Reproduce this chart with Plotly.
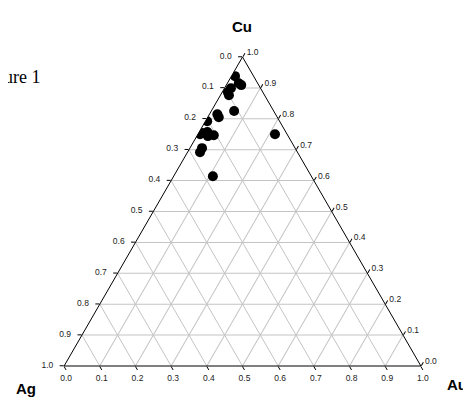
import plotly.graph_objects as go

# Ternary data: Cu (top), Ag (bottom-left), Au (bottom-right)
cu = [0.938, 0.915, 0.909, 0.899, 0.886, 0.876, 0.825, 0.815, 0.805, 0.792,
      0.754, 0.757, 0.744, 0.747, 0.750, 0.705, 0.692, 0.614, 0.750]
ag = [0.052, 0.053, 0.049, 0.083, 0.098, 0.100, 0.111, 0.163, 0.164, 0.203,
      0.236, 0.220, 0.225, 0.207, 0.244, 0.261, 0.273, 0.276, 0.034]
au = [0.010, 0.032, 0.042, 0.018, 0.016, 0.024, 0.064, 0.022, 0.031, 0.005,
      0.010, 0.023, 0.031, 0.046, 0.006, 0.034, 0.035, 0.110, 0.216]

tick_vals = [i / 10 for i in range(11)]
# each edge is labelled with the component that grows along it in the reference
left_text = [f"{1 - v:.1f}\u00a0\u00a0" for v in tick_vals]
bottom_text = [f"{1 - v:.1f}" for v in tick_vals]
right_text = [f"{1 - v:.1f}" for v in tick_vals]

OFF = 8  # page body margin
SW, SH = 471, 400
X0, X1, YB = 64.0, 421.0, 366.0  # triangle in screen pixels
base = X1 - X0
tri_h = base * 3 ** 0.5 / 2
W, H = SW - OFF, SH - OFF
L = X0 - OFF
R = W - (X1 - OFF)
B = H - (YB - OFF)
T = H - B - tri_h
pw, ph = W - L - R, H - T - B


def px(x, y):
    """screen pixel -> paper coords"""
    x -= OFF
    y -= OFF
    return (x - L) / pw, (H - B - y) / ph


fig = go.Figure()
fig.add_trace(go.Scatterternary(
    a=cu, b=ag, c=au, mode="markers",
    marker=dict(color="black", size=10),
    showlegend=False, hoverinfo="skip",
))

axis_common = dict(
    title=dict(text=""),
    tickmode="array", tickvals=tick_vals,
    showline=True, linecolor="black", linewidth=1,
    showgrid=True, gridcolor="#c4c4c4", gridwidth=1,
    ticks="outside", ticklen=4, tickcolor="black",
    tickfont=dict(family="Liberation Sans, Arial", size=8.5, color="#222"),
    min=0,
)

fig.update_layout(
    width=W, height=H,
    margin=dict(l=L, r=R, t=T, b=B, pad=0),
    paper_bgcolor="white",
    ternary=dict(
        bgcolor="white", sum=1,
        aaxis=dict(axis_common, ticktext=left_text),
        baxis=dict(axis_common, ticktext=bottom_text),
        caxis=dict(axis_common, ticktext=right_text),
    ),
)

ann_font = dict(family="Liberation Sans, Arial", size=15, color="black")
for text, (x, y) in [("<b>Cu</b>", (241.5, 26)), ("<b>Ag</b>", (26, 389)),
                     ("<b>Au</b>", (457, 385))]:
    xp, yp = px(x, y)
    fig.add_annotation(text=text, x=xp, y=yp, xref="paper", yref="paper",
                       showarrow=False, xanchor="center", yanchor="middle",
                       font=ann_font)

xp, yp = px(43, 77)
fig.add_annotation(text="Figure 1", x=xp, y=yp, xref="paper", yref="paper",
                   showarrow=False, xanchor="right", yanchor="middle",
                   font=dict(family="Liberation Serif, Times New Roman", size=18,
                             color="black"))

fig.write_html("out.html")
